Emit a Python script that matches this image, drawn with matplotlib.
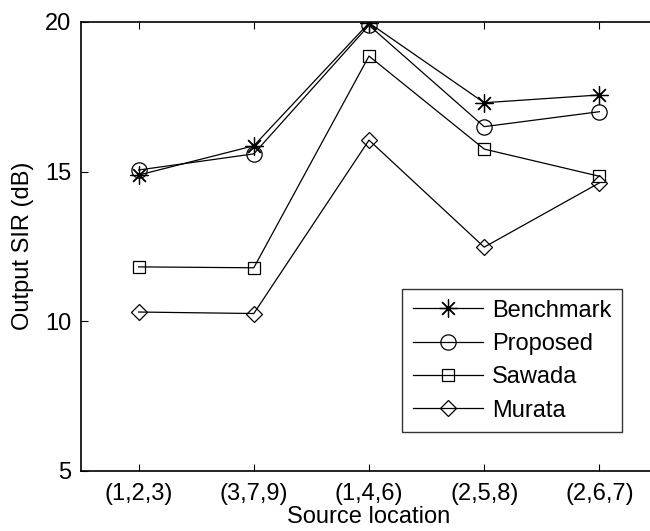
import matplotlib
matplotlib.use("Agg")
import matplotlib.pyplot as plt
import numpy as np

plt.rcParams["font.family"] = ["Liberation Sans", "DejaVu Sans"]

locations = ["(1,2,3)", "(3,7,9)", "(1,4,6)", "(2,5,8)", "(2,6,7)"]
benchmark = [14.88, 15.86, 19.97, 17.30, 17.56]
proposed = [15.05, 15.59, 19.89, 16.50, 17.00]
sawada = [11.81, 11.78, 18.86, 15.75, 14.84]
murata = [10.30, 10.25, 16.05, 12.47, 14.62]

# MATLAB-style asterisk: 8-armed star made of lines
asterisk = (8, 2, 0)
series = [
    ("Benchmark", benchmark, asterisk, 13),
    ("Proposed", proposed, "o", 11),
    ("Sawada", sawada, "s", 9),
    ("Murata", murata, "D", 8),
]

fig = plt.figure(figsize=(6.5, 5.31), dpi=100)
ax = fig.add_axes([81 / 650, 60.5 / 531, 576 / 650, 448.5 / 531])

x = np.arange(1, len(locations) + 1)
for name, vals, mk, ms in series:
    ax.plot(x, vals, color="black", lw=0.9, marker=mk, ms=ms,
            mfc="none", mec="black", mew=0.9, label=name)

ax.set_xlim(0.5, 5.5)
ax.set_ylim(5, 20)
ax.set_xticks(x)
ax.set_xticklabels(locations)
ax.set_yticks([5, 10, 15, 20])
ax.tick_params(direction="in", length=5, width=0.8, top=True, right=True,
               labelsize=17)
ax.tick_params(axis="x", pad=9)
ax.tick_params(axis="y", pad=7)
for s in ax.spines.values():
    s.set_linewidth(1.2)
ax.set_xlabel("Source location", fontsize=17, labelpad=1)
ax.set_ylabel("Output SIR (dB)", fontsize=17, labelpad=8)

leg = ax.legend(loc="upper left", bbox_to_anchor=(402 / 650, 1 - 289 / 531),
                bbox_transform=fig.transFigure, fontsize=17, frameon=True,
                fancybox=False, edgecolor="black", handlelength=3.0,
                handletextpad=0.35, borderpad=0.45, labelspacing=0.48,
                borderaxespad=0)
leg.get_frame().set_linewidth(1.0)

fig.savefig("out.png", dpi=100)
